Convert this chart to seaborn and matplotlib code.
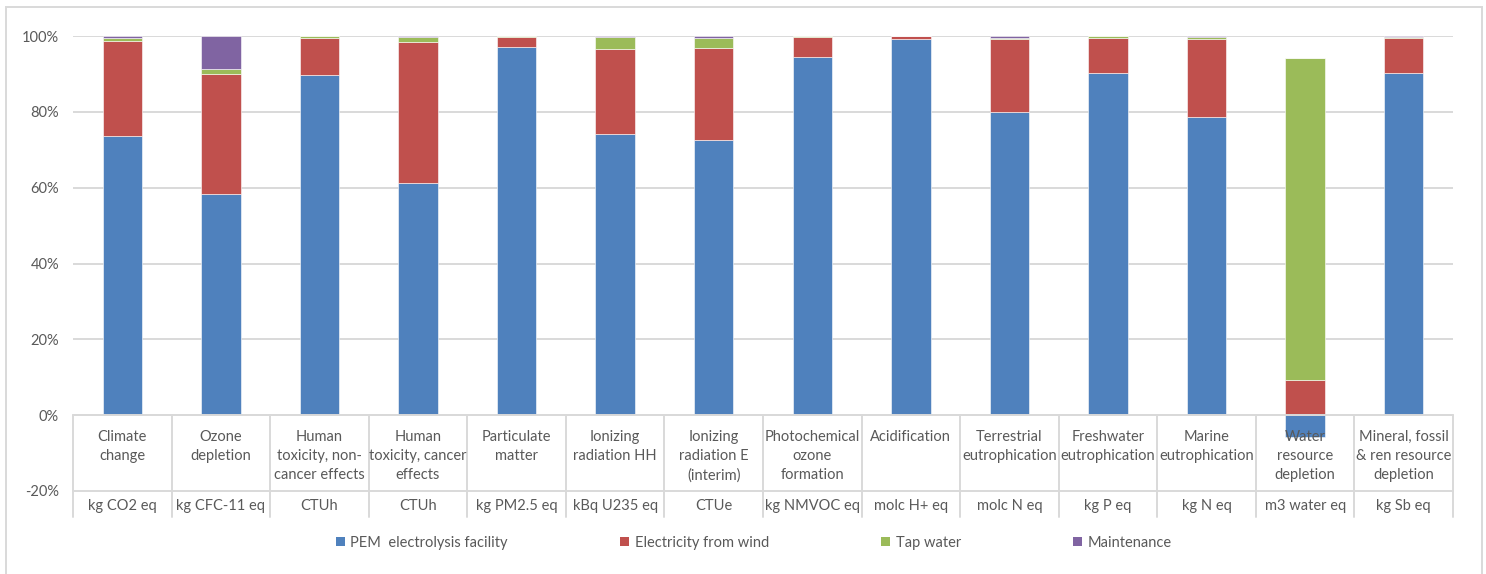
import numpy as np
import pandas as pd
import matplotlib
matplotlib.use("Agg")
import matplotlib.pyplot as plt
from matplotlib.patches import Rectangle, Patch
import seaborn as sns

# Impact categories (multi-line labels) and their reference units
categories = [
    "Climate\nchange", "Ozone\ndepletion", "Human\ntoxicity, non-\ncancer effects",
    "Human\ntoxicity, cancer\neffects", "Particulate\nmatter", "Ionizing\nradiation HH",
    "Ionizing\nradiation E\n(interim)", "Photochemical\nozone\nformation", "Acidification",
    "Terrestrial\neutrophication", "Freshwater\neutrophication", "Marine\neutrophication",
    "Water\nresource\ndepletion", "Mineral, fossil\n& ren resource\ndepletion",
]
units = [
    "kg CO2 eq", "kg CFC-11 eq", "CTUh", "CTUh", "kg PM2.5 eq", "kBq U235 eq", "CTUe",
    "kg NMVOC eq", "molc H+ eq", "molc N eq", "kg P eq", "kg N eq", "m3 water eq", "kg Sb eq",
]

# Contribution of each process to the impact category (%)
pem_facility = [73.5, 58.3, 89.6, 61.3, 97.0, 74.1, 72.7, 94.4, 99.1, 80.0, 90.2, 78.6, -5.7, 90.2]
wind_power = [25.3, 31.6, 10.0, 37.0, 2.8, 22.4, 24.2, 5.4, 0.8, 19.2, 9.4, 20.6, 9.4, 9.4]
tap_water = [0.8, 1.3, 0.3, 1.5, 0.1, 3.3, 2.7, 0.1, 0.05, 0.4, 0.3, 0.5, 84.7, 0.2]
maintenance = [0.4, 8.8, 0.1, 0.2, 0.1, 0.2, 0.4, 0.1, 0.05, 0.4, 0.1, 0.3, 0.0, 0.2]

series_names = ["PEM  electrolysis facility", "Electricity from wind", "Tap water", "Maintenance"]
series_values = [pem_facility, wind_power, tap_water, maintenance]
colors = ["#4F81BD", "#C0504D", "#9BBB59", "#8064A2"]

sns.set_theme(style="white")
plt.rcParams["font.family"] = ["Lato", "DejaVu Sans"]
text_color = "#595959"
line_color = "#D9D9D9"

fig = plt.figure(figsize=(14.86, 5.74), dpi=100)
ax = fig.add_axes([73 / 1486, 1 - 491 / 574, 1380 / 1486, 455 / 574])

# Gridlines behind the bars
for g in range(0, 101, 20):
    ax.axhline(g, color=line_color, lw=1.4, zorder=0)

# Stacked bars: positive parts pile upward, negative parts downward
n = len(categories)
pos_base = np.zeros(n)
neg_base = np.zeros(n)
for name, vals, col in zip(series_names, series_values, colors):
    vals = np.asarray(vals, dtype=float)
    bottom = np.where(vals >= 0, pos_base, neg_base)
    df = pd.DataFrame({"category": categories, "value": vals})
    sns.barplot(data=df, x="category", y="value", order=categories, color=col,
                saturation=1, width=0.4, bottom=bottom, edgecolor="white",
                linewidth=0.4, ax=ax, zorder=2)
    pos_base += np.where(vals >= 0, vals, 0)
    neg_base += np.where(vals < 0, vals, 0)

ax.set_xlim(-0.5, n - 0.5)
ax.set_ylim(-20, 100)
ax.set_yticks(range(-20, 101, 20))
ax.set_yticklabels([f"{t}%" for t in range(-20, 101, 20)])
ax.tick_params(axis="y", length=0, pad=10, labelsize=10.5, labelcolor=text_color)
ax.set_xticks([])
ax.set_xlabel("")
ax.set_ylabel("")
for s in ax.spines.values():
    s.set_visible(False)

# Category table under the bars
table_bottom = -26.9
ax.plot([-0.5, n - 0.5], [0, 0], color=line_color, lw=1.4, zorder=3, clip_on=False)
ax.plot([-0.5, n - 0.5], [-20, -20], color=line_color, lw=1.4, zorder=3, clip_on=False)
for k in range(n + 1):
    ax.plot([k - 0.5, k - 0.5], [0, table_bottom], color=line_color, lw=1.4,
            zorder=3, clip_on=False)
for i, (cat, unit) in enumerate(zip(categories, units)):
    ax.text(i, -3.9, cat, ha="center", va="top", fontsize=10.5, color=text_color,
            linespacing=1.45, zorder=4)
    ax.text(i, -24.0, unit, ha="center", va="center", fontsize=10.5, color=text_color,
            clip_on=False, zorder=4)

# Legend along the bottom
handles = [Patch(facecolor=c, edgecolor="none") for c in colors]
fig.legend(handles, series_names, loc="center", bbox_to_anchor=(754 / 1486, 1 - 543 / 574),
           ncol=4, frameon=False, fontsize=10.5, handlelength=0.6, handleheight=0.6,
           handletextpad=0.4, columnspacing=7.7, labelcolor=text_color)

# Chart border
fig.patches.append(Rectangle((6 / 1486, -0.05), 1476 / 1486, 1.05 - 7 / 574,
                             transform=fig.transFigure, fill=False,
                             edgecolor=line_color, lw=1.4))

fig.savefig("out.png", dpi=100, facecolor="white")
